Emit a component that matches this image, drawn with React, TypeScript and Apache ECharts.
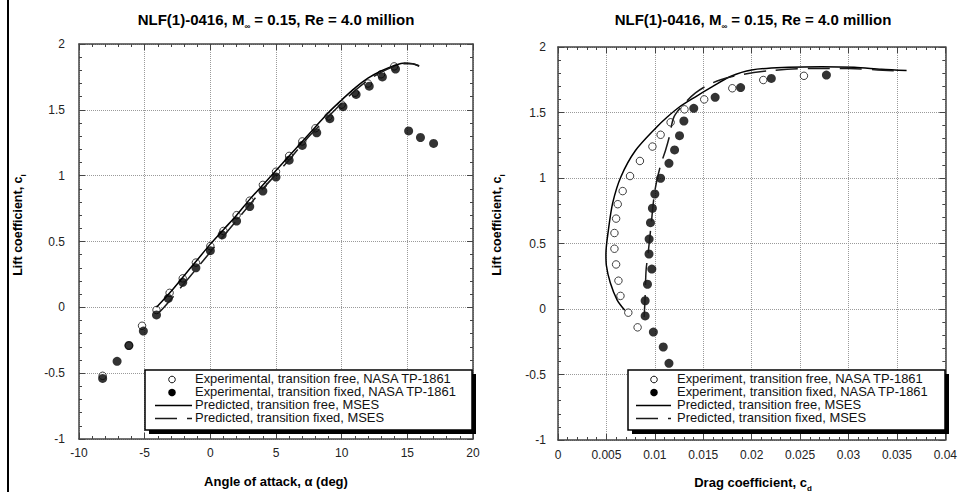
import React, { useEffect, useRef } from "react";
import * as echarts from "echarts";

const FONT = "'Liberation Sans', Arial, Helvetica, sans-serif";

// ---- Lift curve: angle of attack (deg) vs lift coefficient ----
const alphaExpFree = [-8.2, -6.2, -5.2, -4.1, -3.1, -2.1, -1.1, 0, 1, 2, 3, 4, 5, 6, 7, 8, 9, 10, 11, 12, 13, 14];
const clAlphaExpFree = [-0.52, -0.29, -0.14, -0.02, 0.11, 0.22, 0.34, 0.465, 0.58, 0.7, 0.81, 0.93, 1.03, 1.15, 1.26, 1.36, 1.45, 1.54, 1.63, 1.7, 1.77, 1.83];

const alphaExpFixed = [-8.2, -7.1, -6.2, -5.1, -4.1, -3.2, -2.1, -1.1, 0, 0.9, 2, 3, 4, 5, 6, 7, 8.1, 9.1, 10.1, 11.1, 12.1, 13.1, 14.1, 15.1, 16, 17];
const clAlphaExpFixed = [-0.54, -0.41, -0.29, -0.18, -0.058, 0.068, 0.19, 0.3, 0.43, 0.55, 0.655, 0.765, 0.883, 0.99, 1.118, 1.23, 1.326, 1.433, 1.524, 1.617, 1.68, 1.75, 1.81, 1.34, 1.29, 1.245];

const alphaMsesFree = [-4.1, -3, -2, -1, 0, 1, 2, 3, 4, 5, 6, 7, 8, 9, 10, 11, 12, 13, 14, 14.8, 15.4, 15.9];
const clAlphaMsesFree = [0.0, 0.12, 0.24, 0.36, 0.48, 0.59, 0.7, 0.82, 0.93, 1.04, 1.15, 1.26, 1.37, 1.48, 1.575, 1.665, 1.74, 1.795, 1.835, 1.855, 1.85, 1.835];

const alphaMsesFixed = [-3.9, -3, -2, -1, 0, 1, 2, 3, 4, 5, 6, 7, 8, 9, 10, 11, 12, 13, 14, 14.8, 15.4, 15.9];
const clAlphaMsesFixed = [-0.04, 0.06, 0.18, 0.3, 0.42, 0.54, 0.66, 0.78, 0.9, 1.01, 1.12, 1.24, 1.35, 1.45, 1.55, 1.645, 1.725, 1.785, 1.83, 1.85, 1.85, 1.83];

// ---- Drag polar: drag coefficient vs lift coefficient ----
const cdExpFree = [0.00822, 0.00726, 0.00645, 0.00624, 0.006, 0.00583, 0.00583, 0.006, 0.00617, 0.00668, 0.00744, 0.00846, 0.00975, 0.0106, 0.01163, 0.01306, 0.0151, 0.018, 0.0212, 0.0254];
const clPolarExpFree = [-0.14, -0.028, 0.1, 0.216, 0.34, 0.46, 0.58, 0.69, 0.8, 0.9, 1.015, 1.13, 1.24, 1.33, 1.425, 1.524, 1.6, 1.685, 1.748, 1.78];

const cdExpFixed = [0.01146, 0.01087, 0.00985, 0.009, 0.009, 0.00924, 0.00969, 0.0094, 0.00941, 0.00955, 0.00975, 0.01, 0.0106, 0.01146, 0.01204, 0.01255, 0.013, 0.01402, 0.01623, 0.01886, 0.02203, 0.02772];
const clPolarExpFixed = [-0.415, -0.29, -0.176, -0.053, 0.063, 0.189, 0.305, 0.42, 0.534, 0.659, 0.769, 0.878, 0.998, 1.112, 1.214, 1.323, 1.435, 1.532, 1.616, 1.69, 1.76, 1.786];

const cdMsesFree = [0.0069, 0.0061, 0.0054, 0.005, 0.00495, 0.0052, 0.00565, 0.0065, 0.008, 0.0102, 0.0112, 0.0125, 0.0142, 0.0159, 0.0178, 0.02, 0.0238, 0.0272, 0.0306, 0.0334, 0.036];
const clPolarMsesFree = [-0.01, 0.07, 0.2, 0.33, 0.42, 0.6, 0.81, 1.01, 1.21, 1.39, 1.46, 1.54, 1.62, 1.695, 1.775, 1.825, 1.845, 1.85, 1.845, 1.83, 1.82];

const cdMsesFixed = [0.0089, 0.009, 0.0091, 0.0093, 0.0096, 0.01, 0.0106, 0.0111, 0.0115, 0.012, 0.0132, 0.0142, 0.0155, 0.0168, 0.019, 0.022, 0.026, 0.03, 0.033, 0.0355];
const clPolarMsesFixed = [-0.06, 0.1, 0.3, 0.42, 0.63, 0.9, 1.1, 1.21, 1.315, 1.47, 1.58, 1.65, 1.71, 1.75, 1.79, 1.82, 1.835, 1.835, 1.825, 1.815];

// ---- Axis ticks ----
const alphaTicks = { min: -10, max: 20, interval: 5 };
const cdTicks = { min: 0, max: 0.04, interval: 0.005 };
const clTicks = { min: -1, max: 2, interval: 0.5 };

// ---- Texts ----
const titleText = "NLF(1)-0416, M{s|∞} = 0.15, Re = 4.0 million";
const legendLabelsLift = [
  "Experimental, transition free, NASA TP-1861",
  "Experimental, transition fixed, NASA TP-1861",
  "Predicted, transition free, MSES",
  "Predicted, transition fixed, MSES",
];
const legendLabelsPolar = [
  "Experiment, transition free, NASA TP-1861",
  "Experiment, transition fixed, NASA TP-1861",
  "Predicted, transition free, MSES",
  "Predicted, transition fixed, MSES",
];

const zip = (xs: number[], ys: number[]) => xs.map((x, i) => [x, ys[i]]);

const AXIS_COLOR = "#444";
const DASH = [22, 10];

function axis(gridIndex: number, ticks: any, position: string, withLabels: boolean, margin: number, fmt?: (v: number) => string) {
  return {
    type: "value",
    gridIndex,
    position,
    min: ticks.min,
    max: ticks.max,
    interval: ticks.interval,
    axisLine: { show: true, onZero: false, lineStyle: { color: AXIS_COLOR, width: 1.5 } },
    axisTick: { show: true, inside: true, length: 6, lineStyle: { color: AXIS_COLOR, width: 1 } },
    minorTick: { show: true, splitNumber: 5, length: 3, lineStyle: { color: AXIS_COLOR, width: 1 } },
    splitLine: { show: withLabels, lineStyle: { color: "#9a9a9a", type: "dotted", width: 1 } },
    minorSplitLine: { show: false },
    axisLabel: {
      show: withLabels,
      margin,
      fontSize: 12,
      fontFamily: FONT,
      color: "#222",
      showMinLabel: true,
      showMaxLabel: true,
      formatter: fmt,
    },
  };
}

const openCircle = { color: "#fff", borderColor: "#111", borderWidth: 1 };
const filledCircle = { color: "#000" };

function scatter(name: string, xi: number, data: number[][], filled: boolean) {
  return {
    name,
    type: "scatter",
    xAxisIndex: xi,
    yAxisIndex: xi,
    data,
    symbol: "circle",
    symbolSize: filled ? 9 : 7.5,
    itemStyle: filled ? filledCircle : openCircle,
    z: 3,
    silent: true,
  };
}

function curve(name: string, xi: number, data: number[][], dashed: boolean) {
  return {
    name,
    type: "line",
    xAxisIndex: xi,
    yAxisIndex: xi,
    data,
    symbol: "none",
    showSymbol: false,
    smooth: 0.3,
    lineStyle: { color: dashed ? "#1a1a1a" : "#000", width: 1.5, type: dashed ? DASH : "solid" },
    z: 4,
    silent: true,
  };
}

function subText(text: string, x: number, y: number, size: number, rotation = 0) {
  return {
    type: "text",
    x,
    y,
    rotation,
    z: 100,
    silent: true,
    style: {
      text,
      fontFamily: FONT,
      fontSize: size,
      fontWeight: "bold",
      lineHeight: size + 7,
      fill: "#000",
      align: "center",
      verticalAlign: "middle",
      rich: {
        s: { fontFamily: FONT, fontSize: 8, fontWeight: "bold", fill: "#000", verticalAlign: "bottom" },
      },
    },
  };
}

// Boxed key with a hard drop shadow; rows share one multi-line text block
function legendBox(x: number, y: number, w: number, h: number, symX: number, lx1: number, lx2: number, tx: number, labels: string[]) {
  const step = 13;
  const mid = y + 29;
  const rows = [0, 1, 2, 3].map((i) => mid + (i - 1.5) * step);
  return [
    { type: "rect", z: 100, silent: true, shape: { x: x + 4, y: y + 4, width: w, height: h }, style: { fill: "#000" } },
    { type: "rect", z: 101, silent: true, shape: { x, y, width: w, height: h }, style: { fill: "#fff", stroke: "#000", lineWidth: 1.5 } },
    { type: "circle", z: 102, silent: true, shape: { cx: symX, cy: rows[0], r: 3.3 }, style: { fill: "#fff", stroke: "#111", lineWidth: 1 } },
    { type: "circle", z: 102, silent: true, shape: { cx: symX, cy: rows[1], r: 3.8 }, style: { fill: "#000" } },
    { type: "line", z: 102, silent: true, shape: { x1: lx1, y1: rows[2], x2: lx2, y2: rows[2] }, style: { stroke: "#000", lineWidth: 1.3 } },
    { type: "line", z: 102, silent: true, shape: { x1: lx1, y1: rows[3], x2: lx2, y2: rows[3] }, style: { stroke: "#1a1a1a", lineWidth: 1.3, lineDash: DASH } },
    {
      type: "text",
      z: 102,
      silent: true,
      x: tx,
      y: mid,
      scaleX: 1.08,
      style: {
        text: labels.join("\n"),
        fontFamily: FONT,
        fontSize: 12,
        lineHeight: step,
        fill: "#111",
        align: "left",
        verticalAlign: "middle",
      },
    },
  ];
}

const cdFmt = (v: number) => String(+v.toFixed(3));

const option: any = {
  animation: false,
  backgroundColor: "#fff",
  grid: [
    { left: 79, top: 44, width: 394, height: 395, containLabel: false },
    { left: 558, top: 47, width: 391, height: 393, containLabel: false },
  ],
  xAxis: [
    axis(0, alphaTicks, "bottom", true, 8),
    axis(0, alphaTicks, "top", false, 8),
    axis(1, cdTicks, "bottom", true, 9, cdFmt),
    axis(1, cdTicks, "top", false, 9),
  ],
  yAxis: [
    axis(0, clTicks, "left", true, 14),
    axis(0, clTicks, "right", false, 14),
    axis(1, clTicks, "left", true, 12),
    axis(1, clTicks, "right", false, 12),
  ],
  series: [
    scatter("Experimental, transition free", 0, zip(alphaExpFree, clAlphaExpFree), false),
    scatter("Experimental, transition fixed", 0, zip(alphaExpFixed, clAlphaExpFixed), true),
    curve("Predicted, transition free", 0, zip(alphaMsesFree, clAlphaMsesFree), false),
    curve("Predicted, transition fixed", 0, zip(alphaMsesFixed, clAlphaMsesFixed), true),
    scatter("Experiment, transition free", 2, zip(cdExpFree, clPolarExpFree), false),
    scatter("Experiment, transition fixed", 2, zip(cdExpFixed, clPolarExpFixed), true),
    curve("Predicted, transition free (polar)", 2, zip(cdMsesFree, clPolarMsesFree), false),
    curve("Predicted, transition fixed (polar)", 2, zip(cdMsesFixed, clPolarMsesFixed), true),
  ],
  graphic: [
    { type: "line", z: 100, silent: true, shape: { x1: 8, y1: 0, x2: 8, y2: 492 }, style: { stroke: "#000", lineWidth: 2 } },
    subText(titleText, 276, 19, 15),
    subText(titleText, 753, 19, 15),
    subText("Angle of attack, α (deg)", 276, 481, 13),
    subText("Drag coefficient, c{s|d}", 753, 482, 13),
    subText("Lift coefficient, c{s|l}", 18, 225, 12.5, Math.PI / 2),
    subText("Lift coefficient, c{s|l}", 497, 225, 12.5, Math.PI / 2),
    ...legendBox(145, 370, 327, 60, 172, 155, 192, 195, legendLabelsLift),
    ...legendBox(628, 370, 317, 60, 654, 636, 671, 677, legendLabelsPolar),
  ],
};

export default function App() {
  const ref = useRef<HTMLDivElement>(null);
  useEffect(() => {
    if (!ref.current) return;
    const chart = echarts.init(ref.current, null, { renderer: "svg" });
    chart.setOption(option);
    return () => chart.dispose();
  }, []);
  return (
    <div
      ref={ref}
      style={{ position: "fixed", left: 0, top: 0, width: 960, height: 492, background: "#fff" }}
    />
  );
}
